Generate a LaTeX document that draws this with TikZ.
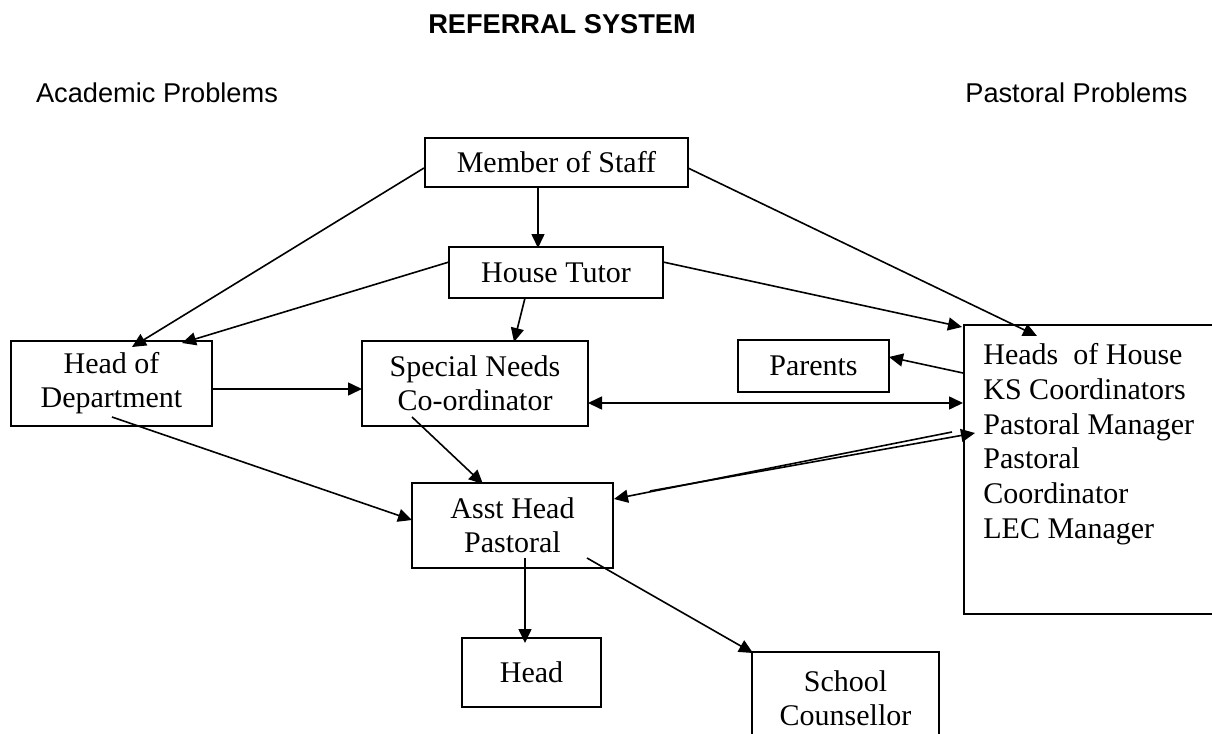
\documentclass[tikz,border=0pt]{standalone}
\usepackage{fontspec}
\setmainfont{Liberation Serif}
\newfontfamily\arialfont{Liberation Sans}
\usetikzlibrary{arrows.meta}
\begin{document}
\begin{tikzpicture}[x=0.5pt,y=-0.5pt,
  box/.style={draw, line width=0.85pt, inner sep=0pt, align=center,
    font=\fontsize{15}{17}\selectfont},
  arr/.style={line width=0.8pt, -{Triangle[length=7pt,width=6.5pt]}},
  arrboth/.style={line width=0.8pt, {Triangle[length=7pt,width=6.5pt]}-{Triangle[length=7pt,width=6.5pt]}},
  head/.style={font=\arialfont\fontsize{13.6}{16}\selectfont, inner sep=0pt},
  titl/.style={font=\arialfont\bfseries\fontsize{13.6}{16}\selectfont, inner sep=0pt}]
\useasboundingbox (0,0) rectangle (1212,734);
\fill[white] (0,0) rectangle (1212,734);

% headings
\node[titl] (title) at (562,24) {REFERRAL SYSTEM};
\node[head] (acad) at (157,93) {Academic Problems};
\node[head, anchor=east] (past) at (1188,93) {Pastoral Problems};

% boxes
\node[box, minimum width=131.5pt, minimum height=24.5pt] (mos) at (556.5,162.5) {Member of Staff};
\node[box, minimum width=107pt, minimum height=25.5pt] (ht) at (556,272.5) {House Tutor};
\node[box, minimum width=100.5pt, minimum height=42.5pt] (hod) at (111.5,383.5) {Head of\\Department};
\node[box, minimum width=113pt, minimum height=42.5pt] (sn) at (475,383.5) {Special Needs\\Co-ordinator};
\node[box, minimum width=75.5pt, minimum height=26pt] (par) at (813.5,366) {Parents};
\node[box, minimum width=133pt, minimum height=144.5pt] (pas) at (1097,469.5) {};
\node[font=\fontsize{15}{17.4}\selectfont, align=left, anchor=north west, inner sep=0pt] (pastxt) at (983,343)
  {Heads\ \ of House\\KS Coordinators\\Pastoral Manager\\Pastoral\\Coordinator\\LEC Manager};
\node[box, minimum width=100.5pt, minimum height=42.5pt] (ah) at (512.5,525.5) {Asst Head\\Pastoral};
\node[box, minimum width=69.5pt, minimum height=34.5pt] (hd) at (531.5,672.5) {Head};
\node[box, minimum width=93.5pt, minimum height=46.5pt] (co) at (845.5,698.5) {School\\Counsellor};

% connector end points
\coordinate (mosL) at (424,168);
\coordinate (hodT1) at (132,347);
\coordinate (mosB) at (538,187);
\coordinate (htT) at (538,248);
\coordinate (mosR) at (688,168);
\coordinate (pasT) at (1037,336);
\coordinate (htL) at (449,262);
\coordinate (hodT2) at (182,343);
\coordinate (htR) at (663,262);
\coordinate (pasC) at (962,327);
\coordinate (htB) at (525,298);
\coordinate (snT) at (514,342);
\coordinate (hodR) at (212,389);
\coordinate (snL) at (362,389);
\coordinate (hodI) at (112,417);
\coordinate (ahL) at (412,520);
\coordinate (snI) at (412,417);
\coordinate (ahT) at (483,484);
\coordinate (snR) at (588,403);
\coordinate (pasL1) at (963,403);
\coordinate (pasL2) at (963,373);
\coordinate (parR) at (889,357);
\coordinate (pasL3) at (952,432);
\coordinate (ahR) at (614,499);
\coordinate (ahR2) at (650,491);
\coordinate (pasL4) at (975,433);
\coordinate (ahB) at (525,558);
\coordinate (hdT) at (525,643);
\coordinate (ahI) at (587,558);
\coordinate (coT) at (753,653);

% connectors
\draw[arr] (mosL) -- (hodT1);
\draw[arr] (mosB) -- (htT);
\draw[arr] (mosR) -- (pasT);
\draw[arr] (htL) -- (hodT2);
\draw[arr] (htR) -- (pasC);
\draw[arr] (htB) -- (snT);
\draw[arr] (hodR) -- (snL);
\draw[arr] (hodI) -- (ahL);
\draw[arr] (snI) -- (ahT);
\draw[arrboth] (snR) -- (pasL1);
\draw[arr] (pasL2) -- (parR);
\draw[arr] (pasL3) -- (ahR);
\draw[arr] (ahR2) -- (pasL4);
\draw[arr] (ahB) -- (hdT);
\draw[arr] (ahI) -- (coT);
\end{tikzpicture}
\end{document}
